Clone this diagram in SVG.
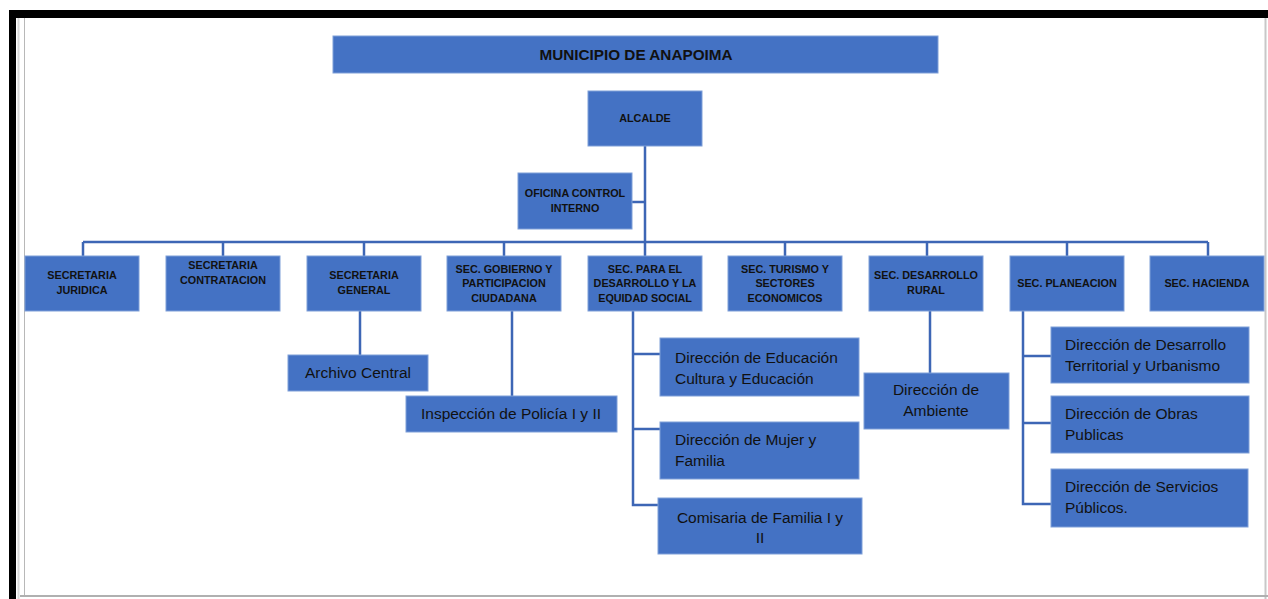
<svg xmlns="http://www.w3.org/2000/svg" width="1268" height="599" viewBox="0 0 1268 599">
<style>
.box{fill:#4472C4;stroke:#7f9fd8;stroke-width:1}
.cap{font-family:"Liberation Sans",Arial,sans-serif;font-weight:bold;font-size:10.8px;fill:#111;text-anchor:middle}
.txt{font-family:"Liberation Sans",Arial,sans-serif;font-size:15.5px;fill:#111}
.mid{text-anchor:middle}
.ln{stroke:#3d66b5;stroke-width:2.5;fill:none}
</style>
<rect x="0" y="0" width="1268" height="599" fill="#ffffff"/>
<g id="frame">
<rect x="9" y="10" width="1259" height="8" fill="#000"/>
<rect x="9" y="10" width="7" height="589" fill="#000"/>
<line x1="18.5" y1="18" x2="18.5" y2="599" stroke="#d8d8d8" stroke-width="2"/>
<line x1="24.5" y1="18" x2="24.5" y2="595" stroke="#b8b8b8" stroke-width="1"/>
<line x1="1265.5" y1="18" x2="1265.5" y2="599" stroke="#c8c8c8" stroke-width="2"/>
<line x1="20" y1="596" x2="1268" y2="596" stroke="#b0b0b0" stroke-width="2"/>
</g>
<g id="connectors">
<path class="ln" d="M645 146 V242 M632 202 H645 M83 242 H1208 M83 242 V256 M223 242 V256 M364 242 V256 M504 242 V256 M645 242 V256 M785 242 V256 M927 242 V256 M1067 242 V256 M1208 242 V256"/>
<path class="ln" d="M360 311 V355 M512 311 V396 M930 311 V373"/>
<path class="ln" d="M633 311 V505 H658 M633 354 H660 M633 429 H660"/>
<path class="ln" d="M1023 311 V504 H1051 M1023 356 H1051 M1023 423 H1051"/>
</g>
<g id="n-municipio"><rect class="box" x="333" y="36" width="605" height="37"/><text class="cap" x="636" y="60" style="font-size:15.3px">MUNICIPIO DE ANAPOIMA</text></g>
<g id="n-alcalde"><rect class="box" x="588" y="91" width="114" height="55"/><text class="cap" x="645" y="122">ALCALDE</text></g>
<g id="n-oficina"><rect class="box" x="518" y="173" width="114" height="56"/><text class="cap" x="575" y="197">OFICINA CONTROL</text><text class="cap" x="575" y="212">INTERNO</text></g>
<g id="n-juridica"><rect class="box" x="25" y="256" width="114" height="55"/><text class="cap" x="82" y="279">SECRETARIA</text><text class="cap" x="82" y="294">JURIDICA</text></g>
<g id="n-contratacion"><rect class="box" x="166" y="256" width="114" height="55"/><text class="cap" x="223" y="269">SECRETARIA</text><text class="cap" x="223" y="284">CONTRATACION</text></g>
<g id="n-general"><rect class="box" x="307" y="256" width="114" height="55"/><text class="cap" x="364" y="279">SECRETARIA</text><text class="cap" x="364" y="294">GENERAL</text></g>
<g id="n-gobierno"><rect class="box" x="447" y="256" width="114" height="55"/><text class="cap" x="504" y="273">SEC. GOBIERNO Y</text><text class="cap" x="504" y="287">PARTICIPACION</text><text class="cap" x="504" y="302">CIUDADANA</text></g>
<g id="n-social"><rect class="box" x="588" y="256" width="114" height="55"/><text class="cap" x="645" y="273">SEC. PARA EL</text><text class="cap" x="645" y="287">DESARROLLO Y LA</text><text class="cap" x="645" y="302">EQUIDAD SOCIAL</text></g>
<g id="n-turismo"><rect class="box" x="728" y="256" width="114" height="55"/><text class="cap" x="785" y="273">SEC. TURISMO Y</text><text class="cap" x="785" y="287">SECTORES</text><text class="cap" x="785" y="302">ECONOMICOS</text></g>
<g id="n-rural"><rect class="box" x="869" y="256" width="114" height="55"/><text class="cap" x="926" y="279">SEC. DESARROLLO</text><text class="cap" x="926" y="294">RURAL</text></g>
<g id="n-planeacion"><rect class="box" x="1010" y="256" width="114" height="55"/><text class="cap" x="1067" y="287">SEC. PLANEACION</text></g>
<g id="n-hacienda"><rect class="box" x="1150" y="256" width="114" height="55"/><text class="cap" x="1207" y="287">SEC. HACIENDA</text></g>
<g id="n-archivo"><rect class="box" x="288" y="355" width="140" height="36"/><text class="txt mid" x="358" y="378">Archivo Central</text></g>
<g id="n-inspeccion"><rect class="box" x="406" y="396" width="211" height="36"/><text class="txt mid" x="511" y="419">Inspección de Policía I y II</text></g>
<g id="n-educacion"><rect class="box" x="660" y="338" width="199" height="58"/><text class="txt" x="675" y="363">Dirección de Educación</text><text class="txt" x="675" y="384">Cultura y Educación</text></g>
<g id="n-mujer"><rect class="box" x="660" y="422" width="199" height="57"/><text class="txt" x="675" y="445">Dirección de Mujer y</text><text class="txt" x="675" y="466">Familia</text></g>
<g id="n-comisaria"><rect class="box" x="658" y="498" width="204" height="56"/><text class="txt mid" x="760" y="523">Comisaria de Familia I y</text><text class="txt mid" x="760" y="543">II</text></g>
<g id="n-ambiente"><rect class="box" x="864" y="373" width="145" height="56"/><text class="txt mid" x="936" y="395">Dirección de</text><text class="txt mid" x="936" y="416">Ambiente</text></g>
<g id="n-territorial"><rect class="box" x="1051" y="327" width="198" height="56"/><text class="txt" x="1065" y="350">Dirección de Desarrollo</text><text class="txt" x="1065" y="371">Territorial y Urbanismo</text></g>
<g id="n-obras"><rect class="box" x="1051" y="396" width="198" height="57"/><text class="txt" x="1065" y="419">Dirección de Obras</text><text class="txt" x="1065" y="440">Publicas</text></g>
<g id="n-servicios"><rect class="box" x="1051" y="469" width="197" height="58"/><text class="txt" x="1065" y="492">Dirección de Servicios</text><text class="txt" x="1065" y="513">Públicos.</text></g>
</svg>
